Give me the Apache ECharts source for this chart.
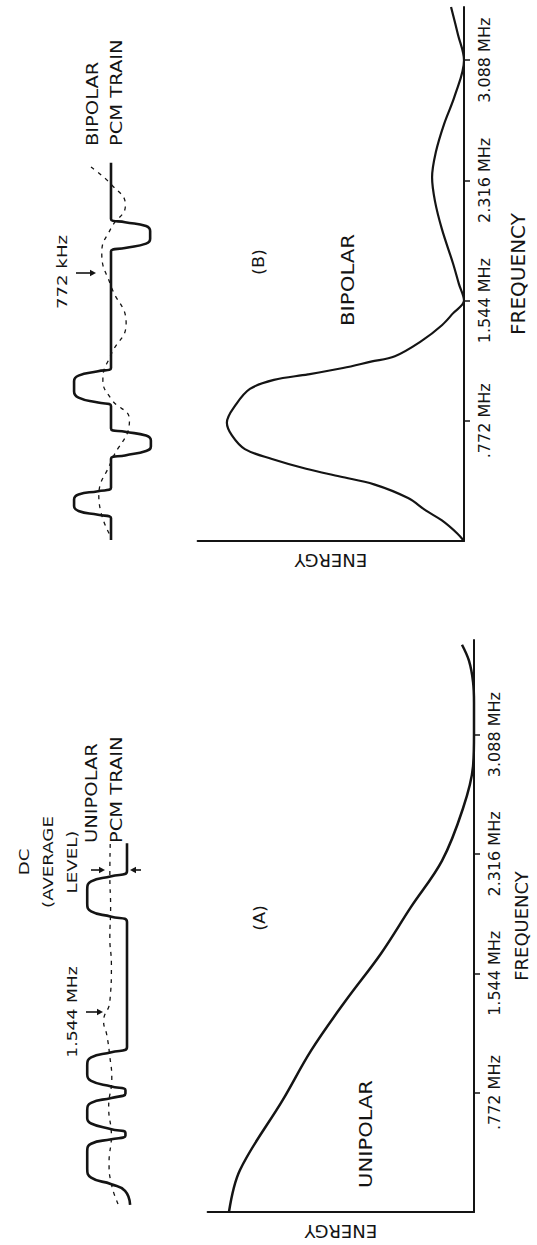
<!DOCTYPE html>
<html>
<head>
<meta charset="utf-8">
<script src="https://cdn.jsdelivr.net/npm/echarts@6/dist/echarts.min.js"></script>
<style>
  html, body { margin: 0; padding: 0; background: #ffffff; }
  #chart { width: 537px; height: 1245px; }
</style>
</head>
<body>
<div id="chart"></div>
<script>
// ---------- data ----------
const freqTicks = [0.772, 1.544, 2.316, 3.088];
const freqTickLabels = ['.772 MHz', '1.544 MHz', '2.316 MHz', '3.088 MHz'];

// (A) unipolar spectrum: frequency (MHz) and relative energy
const unipolarFreq   = [0, 0.272, 0.727, 1.044, 1.360, 1.671, 1.972, 2.273, 2.610, 2.883, 3.088, 3.293, 3.430, 3.566, 3.669];
const unipolarEnergy = [102.1, 97.5, 79.6, 67.9, 53.8, 38.8, 26.3, 13.3, 4.6, 0.4, 0, 0, 0.4, 2.1, 5.0];

// (B) bipolar spectrum
const bipolarFreq   = [0, 0.050, 0.132, 0.195, 0.276, 0.364, 0.414, 0.464, 0.527, 0.590, 0.678, 0.760, 0.877, 0.977, 1.035, 1.070, 1.111, 1.152, 1.187, 1.287, 1.386, 1.462, 1.544, 1.650, 1.784, 2.003, 2.183, 2.336, 2.500, 2.678, 2.862, 3.088, 3.252, 3.430];
const bipolarEnergy = [0, 2.9, 9.2, 15.8, 23.3, 37.5, 51.7, 65.8, 80.0, 91.3, 96.7, 98.8, 95.0, 89.2, 79.2, 65.0, 50.4, 38.8, 28.8, 17.5, 9.2, 4.6, 0, 2.1, 4.6, 9.2, 12.1, 13.3, 11.7, 8.3, 3.8, 0, 2.5, 5.4];

// bipolar PCM train (time in bit periods, level)
const bipolarTrainTime  = [0.18, 0.58, 0.64, 0.71, 0.80, 0.92, 1.01, 1.07, 1.13, 1.66, 1.72, 1.80, 1.88, 1.99, 2.08, 2.15, 2.21, 2.62, 2.68, 2.77, 2.88, 3.07, 3.17, 3.25, 3.31, 5.43, 5.49, 5.57, 5.66, 5.80, 5.89, 5.96, 6.02, 7.04];
const bipolarTrainLevel = [0, 0, 0.35, 0.88, 1.0, 1.0, 0.88, 0.35, 0, 0, -0.38, -0.95, -1.08, -1.08, -0.95, -0.38, 0, 0, 0.35, 0.88, 1.0, 1.0, 0.88, 0.35, 0, 0, -0.38, -0.95, -1.06, -1.06, -0.95, -0.38, 0, 0];
// dashed 772 kHz component
const bipolarRefTime  = [0.30, 0.97, 1.60, 2.36, 2.75, 3.10, 3.55, 4.12, 4.80, 5.40, 5.85, 6.27, 6.65, 6.97];
const bipolarRefLevel = [0.05, 0.33, 0.0, -0.50, 0.0, 0.22, 0.0, -0.41, 0.0, 0.25, 0.0, -0.39, 0.0, 0.56];

// unipolar PCM train
const unipolarTrainTime  = [0.23, 0.55, 0.70, 0.85, 1.05, 1.45, 1.62, 1.72, 1.80, 1.87, 1.95, 2.08, 2.20, 2.38, 2.55, 2.66, 2.76, 2.84, 2.92, 3.05, 3.20, 3.40, 3.58, 3.70, 3.82, 6.66, 6.78, 6.90, 7.08, 7.40, 7.58, 7.70, 7.82, 8.45];
const unipolarTrainLevel = [-0.08, 0.05, 0.40, 0.92, 1.02, 1.02, 0.92, 0.40, 0.04, 0.04, 0.40, 0.92, 1.02, 1.02, 0.92, 0.40, 0.04, 0.04, 0.40, 0.92, 1.02, 1.02, 0.92, 0.40, 0, 0, 0.40, 0.92, 1.02, 1.02, 0.92, 0.40, 0, 0];
// dashed DC (average) level
const unipolarRefTime  = [0.25, 0.70, 1.20, 1.80, 2.45, 3.10, 3.60, 4.10, 4.40, 4.85, 5.70, 6.30, 7.00, 7.70, 8.45];
const unipolarRefLevel = [0.23, 0.40, 0.46, 0.40, 0.47, 0.39, 0.44, 0.52, 0.60, 0.44, 0.40, 0.44, 0.42, 0.44, 0.43];

// ---------- chart ----------
const INK = '#141414';
const FONT = 'DejaVu Sans, Liberation Sans, sans-serif';
const zip = (xs, ys) => xs.map((v, i) => [v, ys[i]]);
const tickText = v => {
  const i = freqTicks.findIndex(t => Math.abs(t - v) < 1e-6);
  return i >= 0 ? freqTickLabels[i] : '';
};

function freqAxis(gridIndex, max, nameGap, nameSize) {
  return {
    gridIndex, type: 'value', min: 0, max, interval: 0.772, position: 'right',
    axisLine: { show: true, onZero: false, lineStyle: { color: INK, width: 2 } },
    axisTick: { show: true, customValues: freqTicks, length: 6, inside: false, lineStyle: { color: INK, width: 1.5 } },
    axisLabel: { show: true, customValues: freqTicks, rotate: 90, margin: 12, color: INK, fontSize: 16, fontFamily: FONT, formatter: tickText },
    splitLine: { show: false },
    name: 'FREQUENCY', nameLocation: 'middle', nameRotate: 90, nameGap,
    nameTextStyle: { color: INK, fontSize: nameSize, fontFamily: FONT }
  };
}
function energyAxis(gridIndex) {
  return {
    gridIndex, type: 'value', min: 0, max: 111, inverse: true, position: 'bottom',
    axisLine: { show: true, onZero: false, lineStyle: { color: INK, width: 2 } },
    axisTick: { show: false }, axisLabel: { show: false }, splitLine: { show: false },
    name: 'ENERGY', nameLocation: 'middle', nameGap: 10, nameRotate: 180,
    nameTextStyle: { color: INK, fontSize: 18, fontFamily: FONT }
  };
}
function hiddenAxis(gridIndex, min, max, inverse) {
  return { gridIndex, type: 'value', min, max, inverse: !!inverse, show: false, splitLine: { show: false } };
}
function lineSeries(xi, data, width, dashed, smooth) {
  return {
    type: 'line', xAxisIndex: xi, yAxisIndex: xi, data, smooth,
    symbol: 'none', showSymbol: false, silent: true, clip: false,
    lineStyle: { color: INK, width, type: dashed ? [4, 5] : 'solid' }
  };
}
// text reading bottom-to-top, stretched along its baseline like the scanned lettering
function txt(x, y, text, size, stretch, opts) {
  opts = opts || {};
  return {
    type: 'text', x, y, rotation: Math.PI / 2, scaleX: stretch, scaleY: 1, silent: true,
    style: {
      text, fill: INK, fontSize: size, fontFamily: FONT,
      align: opts.align || 'center', textAlign: opts.align || 'center',
      verticalAlign: 'middle', textVerticalAlign: 'middle',
      lineHeight: opts.lineHeight || size * 1.25
    }
  };
}
function arrow(x1, y1, x2, y2) {
  const dx = x2 - x1, dy = y2 - y1, L = Math.hypot(dx, dy), ux = dx / L, uy = dy / L;
  const hl = 6, hw = 3.2;
  return [
    { type: 'line', silent: true, shape: { x1, y1, x2: x2 - ux * hl * 0.6, y2: y2 - uy * hl * 0.6 }, style: { stroke: INK, lineWidth: 1.6 } },
    { type: 'polygon', silent: true, shape: { points: [[x2, y2], [x2 - ux * hl - uy * hw, y2 - uy * hl + ux * hw], [x2 - ux * hl + uy * hw, y2 - uy * hl - ux * hw]] }, style: { fill: INK } }
  ];
}

const chart = echarts.init(document.getElementById('chart'), null, { renderer: 'svg' });
chart.setOption({
  animation: false,
  backgroundColor: '#ffffff',
  textStyle: { fontFamily: FONT },
  grid: [
    { left: 207.6, right: 63, top: 640, bottom: 33, outerBoundsMode: 'none' },    // (A) spectrum
    { left: 197.6, right: 73, top: 7, bottom: 704, outerBoundsMode: 'none' },     // (B) spectrum
    { left: 63, right: 378, top: 159.5, bottom: 695, outerBoundsMode: 'none' },   // bipolar train
    { left: 68.5, right: 394.4, top: 841, bottom: 30, outerBoundsMode: 'none' }   // unipolar train
  ],
  xAxis: [energyAxis(0), energyAxis(1), hiddenAxis(2, -1.3, 1.3, true), hiddenAxis(3, -0.4, 1.5, true)],
  yAxis: [freqAxis(0, 3.70, 38, 18), freqAxis(1, 3.43, 44, 20), hiddenAxis(2, 0, 7.1), hiddenAxis(3, 0, 8.5)],
  series: [
    lineSeries(0, zip(unipolarEnergy, unipolarFreq), 2.5, false, 0.35),
    lineSeries(1, zip(bipolarEnergy, bipolarFreq), 2.2, false, 0.35),
    lineSeries(2, zip(bipolarTrainLevel, bipolarTrainTime), 2.6, false, 0.5),
    lineSeries(2, zip(bipolarRefLevel, bipolarRefTime), 1.3, true, 0.5),
    lineSeries(3, zip(unipolarTrainLevel, unipolarTrainTime), 2.6, false, 0.5),
    lineSeries(3, zip(unipolarRefLevel, unipolarRefTime), 1.3, true, 0.5)
  ],
  graphic: [
    txt(62, 272, '772 kHz', 14, 1.3),
    ...arrow(76, 273, 96, 273),
    txt(105, 146, 'BIPOLAR\nPCM TRAIN', 15, 1.3, { align: 'left', lineHeight: 24 }),
    txt(258, 262, '(B)', 16, 1.1),
    txt(348, 280, 'BIPOLAR', 17, 1.25),
    txt(72, 1012, '1.544 MHz', 14, 1.23),
    ...arrow(86, 1012, 103, 1012),
    txt(48, 862, 'DC\n(AVERAGE\nLEVEL)', 14, 1.3, { lineHeight: 24 }),
    ...arrow(91, 870, 105, 870),
    ...arrow(141, 870, 130, 870),
    txt(104.5, 843, 'UNIPOLAR\nPCM TRAIN', 15, 1.3, { align: 'left', lineHeight: 25 }),
    txt(259, 918, '(A)', 16, 1.1),
    txt(366, 1134, 'UNIPOLAR', 18, 1.17)
  ]
});
</script>
</body>
</html>
